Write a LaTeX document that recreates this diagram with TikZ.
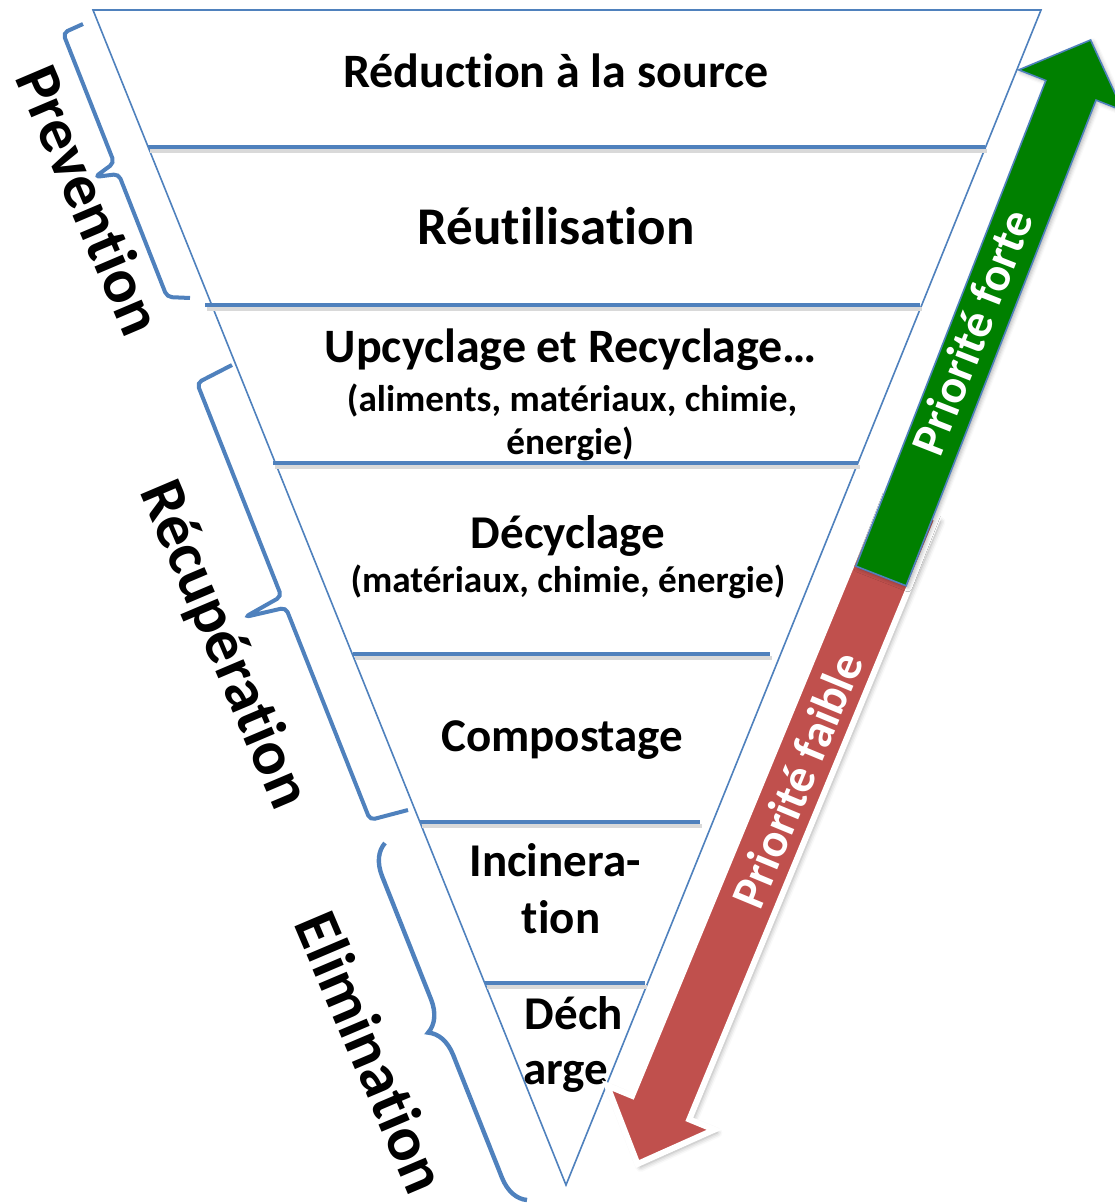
\documentclass[tikz,border=0pt]{standalone}
\usepackage{fontspec}
\setmainfont{Carlito}[Ligatures={NoCommon,NoContextual,NoRare,NoRequired}]
\usetikzlibrary{decorations.pathreplacing,shadows.blur}
\definecolor{tblue}{HTML}{4F81BD}
\definecolor{tgreen}{HTML}{008000}
\definecolor{tred}{HTML}{C0504D}
\begin{document}
\begin{tikzpicture}[x=0.5pt,y=-0.5pt,
  level/.style={draw=tblue, line width=2.1pt},
  levelshadow/.style={draw=black!15, line width=2.1pt},
  lbl/.style={font=\bfseries\fontsize{23.5}{28}\selectfont, anchor=base, inner sep=0pt},
  sublbl/.style={font=\bfseries\fontsize{18.6}{22}\selectfont, anchor=base, inner sep=0pt},
  side/.style={font=\bfseries\fontsize{31.5}{38}\selectfont, rotate=-67, inner sep=0pt},
  brk/.style={draw=tblue, line width=2pt, rounded corners=2.5pt},
  arrowtxt/.style={font=\bfseries\fontsize{24}{28}\selectfont, text=white, inner sep=0pt}
]
\useasboundingbox (0,0) rectangle (1114,1203);
% inverted triangle
\draw[draw=tblue, line width=0.8pt, fill=white] (93,10) -- (1041,10) -- (566,1185) -- cycle;
% level separators
\foreach \y/\a/\b in {147/148/985, 305/205/920, 463/273/858, 654/353/770, 822/420/700, 983/485/645}{
  \draw[levelshadow] (\a+2,\y+4) -- (\b+2,\y+4);
  \draw[level] (\a,\y) -- (\b,\y);
}
% level texts
\node[lbl, font=\bfseries\fontsize{24}{28}\selectfont] (t1) at (556,88) {Réduction à la source};
\node[lbl, font=\bfseries\fontsize{26.5}{30}\selectfont] (t2) at (556,245) {Réutilisation};
\node[lbl, font=\bfseries\fontsize{24}{28}\selectfont] (t3) at (571,362) {Upcyclage et Recyclage…};
\node[sublbl] (t3b) at (572,411) {(aliments, matériaux, chimie,};
\node[sublbl] (t3c) at (570,454) {énergie)};
\node[lbl] (t4) at (568,548) {Décyclage};
\node[sublbl] (t4b) at (568,592) {(matériaux, chimie, énergie)};
\node[lbl] (t5) at (562,751) {Compostage};
\node[lbl] (t6) at (555,876) {Incinera-};
\node[lbl] (t6b) at (561,933) {tion};
\node[lbl] (t7) at (574,1029) {Déch};
\node[lbl] (t7b) at (566,1084) {arge};
% braces
\draw[brk] (83,24) -- (63,33) -- (114.2,162.8) -- (95,177) -- (118.6,174) -- (167,297) -- (190,298);
\draw[brk] (232,365) -- (197,383) -- (281.4,596.4) -- (245,617) -- (285.8,607.6) -- (370,820) -- (408,810);
\draw[draw=tblue, line width=2.2pt, decorate, decoration={brace, amplitude=15pt}] (527,1200) -- (385,843);
% side labels
\node[side] (prev) at (90,200) {Prevention};
\node[side] (recup) at (223,645) {Récupération};
\node[side] (elim) at (372,1052) {Elimination};
% red arrow (low priority)
\draw[draw=white, line width=3pt, fill=tred, line join=miter,
      blur shadow={shadow xshift=1.5pt, shadow yshift=-1.5pt, shadow blur radius=2.5pt, shadow opacity=35}]
  (880.4,495.2) -- (632.1,1095.8) -- (607.1,1085.5) -- (637.5,1164) -- (714.3,1129.7) -- (689.3,1119.4) -- (937.6,518.8) -- cycle;
\node[arrowtxt, rotate=67.5] (faible) at (797,780) {Priorité faible};
% green arrow (high priority)
\draw[draw=tblue, line width=0.8pt, fill=tgreen, line join=miter,
      blur shadow={shadow xshift=1pt, shadow yshift=-1pt, shadow blur radius=2pt, shadow opacity=30}]
  (855.9,566.2) -- (1045.8,80.5) -- (1018.8,69.9) -- (1090.6,40) -- (1123,110.7) -- (1096,100.1) -- (906.1,585.8) -- cycle;
\node[arrowtxt, rotate=68.6] (forte) at (972,332) {Priorité forte};
\end{tikzpicture}
\end{document}
